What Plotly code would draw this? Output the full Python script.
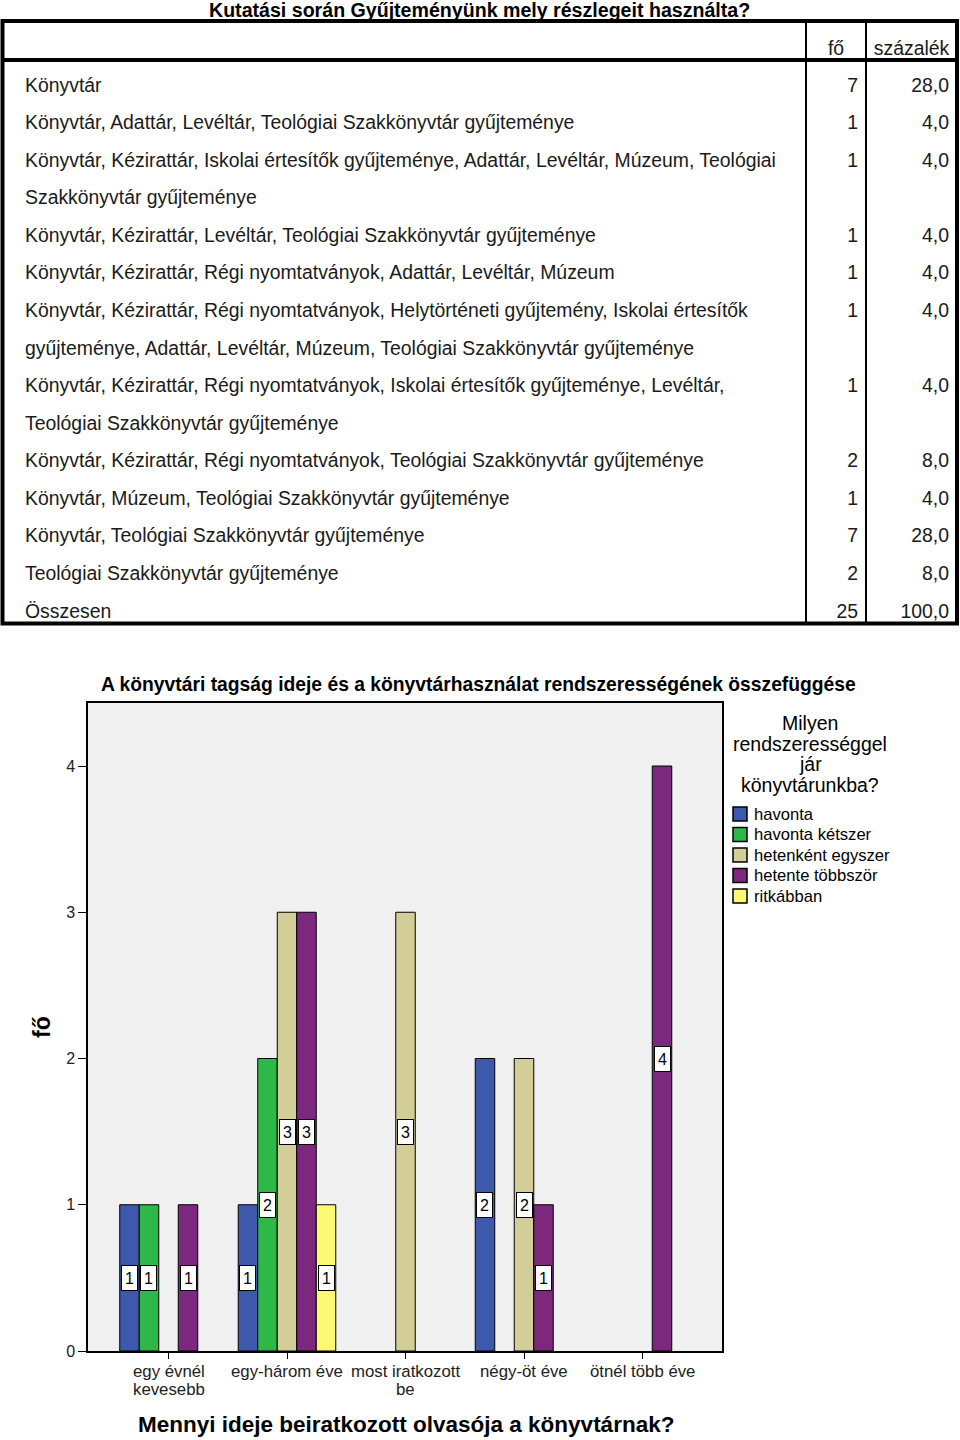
import plotly.graph_objects as go

# ---------------- DATA ----------------
table_title = "Kutatási során Gyűjteményünk mely részlegeit használta?"
table_header = ["", "fő", "százalék"]
table_labels = [
    "Könyvtár",
    "Könyvtár, Adattár, Levéltár, Teológiai Szakkönyvtár gyűjteménye",
    "Könyvtár, Kézirattár, Iskolai értesítők gyűjteménye, Adattár, Levéltár, Múzeum, Teológiai<br>Szakkönyvtár gyűjteménye",
    "Könyvtár, Kézirattár, Levéltár, Teológiai Szakkönyvtár gyűjteménye",
    "Könyvtár, Kézirattár, Régi nyomtatványok, Adattár, Levéltár, Múzeum",
    "Könyvtár, Kézirattár, Régi nyomtatványok, Helytörténeti gyűjtemény, Iskolai értesítők<br>gyűjteménye, Adattár, Levéltár, Múzeum, Teológiai Szakkönyvtár gyűjteménye",
    "Könyvtár, Kézirattár, Régi nyomtatványok, Iskolai értesítők gyűjteménye, Levéltár,<br>Teológiai Szakkönyvtár gyűjteménye",
    "Könyvtár, Kézirattár, Régi nyomtatványok, Teológiai Szakkönyvtár gyűjteménye",
    "Könyvtár, Múzeum, Teológiai Szakkönyvtár gyűjteménye",
    "Könyvtár, Teológiai Szakkönyvtár gyűjteménye",
    "Teológiai Szakkönyvtár gyűjteménye",
    "Összesen",
]
table_counts = [7, 1, 1, 1, 1, 1, 1, 2, 1, 7, 2, 25]
table_percents = ["28,0", "4,0", "4,0", "4,0", "4,0", "4,0", "4,0", "8,0", "4,0", "28,0", "8,0", "100,0"]

chart_title = "A könyvtári tagság ideje és a könyvtárhasználat rendszerességének összefüggése"
x_title = "Mennyi ideje beiratkozott olvasója a könyvtárnak?"
y_title = "fő"
legend_title = "Milyen<br>rendszerességgel<br>jár<br>könyvtárunkba?"
categories = ["egy évnél<br>kevesebb", "egy-három éve", "most iratkozott<br>be", "négy-öt éve", "ötnél több éve"]
series_names = ["havonta", "havonta kétszer", "hetenként egyszer", "hetente többször", "ritkábban"]
series_values = {
    "havonta":           [1, 1, None, 2, None],
    "havonta kétszer":   [1, 2, None, None, None],
    "hetenként egyszer": [None, 3, 3, 2, None],
    "hetente többször":  [1, 3, None, 1, 4],
    "ritkábban":         [None, 1, None, None, None],
}
series_colors = ["#3E58AC", "#2EB848", "#D3CE97", "#7C287D", "#FBF873"]
y_ticks = [0, 1, 2, 3, 4]

# ---------------- LAYOUT CONSTANTS ----------------
W, H = 960, 1440
FONT = "Liberation Sans, Arial, sans-serif"

def px(x):
    return x / W

def py(y):
    return 1 - y / H

fig = go.Figure()

# ---------------- TABLE ----------------
tab_left, tab_right = 2.5, 957
col_div1, col_div2 = 806, 866
tab_top, tab_head_bottom, tab_bottom = 21, 60, 623.5
text_left = 17
row_h = 37.57
head_top, head_h = 32, 37

disp_labels, disp_counts, disp_pcts = [], [], []
for lab, c, p in zip(table_labels, table_counts, table_percents):
    parts = lab.split("<br>")
    disp_labels += parts
    disp_counts += [c] + [""] * (len(parts) - 1)
    disp_pcts += [p] + [""] * (len(parts) - 1)

tab_content_bottom = head_top + head_h + row_h * len(disp_labels) + 12
fig.add_trace(go.Table(
    domain=dict(x=[px(text_left), px(tab_right)], y=[py(tab_content_bottom), py(head_top)]),
    columnwidth=[col_div1 - text_left, col_div2 - col_div1, tab_right - col_div2],
    header=dict(
        values=table_header,
        align=["left", "center", "center"],
        font=dict(family=FONT, size=19.4, color="#1a1a1a"),
        fill_color="rgba(0,0,0,0)",
        line=dict(width=0, color="rgba(0,0,0,0)"),
        height=head_h,
    ),
    cells=dict(
        values=[disp_labels, disp_counts, disp_pcts],
        align=["left", "right", "right"],
        font=dict(family=FONT, size=19.4, color="#1a1a1a"),
        fill_color="rgba(0,0,0,0)",
        line=dict(width=0, color="rgba(0,0,0,0)"),
        height=row_h,
    ),
))

shapes = []
shapes.append(dict(type="rect", xref="paper", yref="paper",
                   x0=px(tab_left), x1=px(tab_right), y0=py(tab_bottom), y1=py(tab_top),
                   line=dict(color="black", width=4)))
shapes.append(dict(type="line", xref="paper", yref="paper",
                   x0=px(tab_left), x1=px(tab_right), y0=py(tab_head_bottom), y1=py(tab_head_bottom),
                   line=dict(color="black", width=4)))
for xd in (col_div1, col_div2):
    shapes.append(dict(type="line", xref="paper", yref="paper",
                       x0=px(xd), x1=px(xd), y0=py(tab_bottom), y1=py(tab_top),
                       line=dict(color="black", width=2)))

# ---------------- BAR CHART ----------------
plot_l, plot_r, plot_t, plot_b = 88, 722, 703, 1351
unit_px = 146.25
cat_px = 118.5
first_cat_px = 168.5
group_frac = 0.823
slot = group_frac / len(series_names)
n_cat = len(categories)

annotations = []
for k, name in enumerate(series_names):
    vals = series_values[name]
    xs = [i + (k - (len(series_names) - 1) / 2) * slot for i in range(n_cat)]
    fig.add_trace(go.Bar(
        x=xs, y=vals, name=name, width=slot, showlegend=False,
        marker=dict(color=series_colors[k], line=dict(color="black", width=1)),
        xaxis="x", yaxis="y", hoverinfo="skip",
    ))
    for xv, v in zip(xs, vals):
        if v:
            annotations.append(dict(
                x=xv, y=v / 2, xref="x", yref="y", text=str(v), showarrow=False,
                font=dict(family=FONT, size=16, color="black"),
                bgcolor="white", bordercolor="black", borderwidth=1, borderpad=2,
                width=11, height=20,
            ))

# category labels (tight line spacing as in the reference)
tick_y0, tick_dy = 1371, 18
for i, cat in enumerate(categories):
    for j, line in enumerate(cat.split("<br>")):
        annotations.append(dict(text=line, x=i, y=py(tick_y0 + j * tick_dy), xref="x", yref="paper",
                                showarrow=False, xanchor="center", yanchor="middle",
                                font=dict(family=FONT, size=16.8, color="#222")))

# legend (drawn manually to match the compact spacing)
leg_cx, leg_title_y0, leg_title_dy = 810, 723, 20.5
for j, line in enumerate(legend_title.split("<br>")):
    annotations.append(dict(text=line, x=px(leg_cx), y=py(leg_title_y0 + j * leg_title_dy),
                            xref="paper", yref="paper", showarrow=False, xanchor="center", yanchor="middle",
                            font=dict(family=FONT, size=19.5, color="black")))
sw_x0, sw_size, leg_item_y0, leg_item_dy, leg_text_x = 733, 14, 814, 20.5, 752
for k, name in enumerate(series_names):
    yc = leg_item_y0 + k * leg_item_dy
    shapes.append(dict(type="rect", xref="paper", yref="paper",
                       x0=px(sw_x0), x1=px(sw_x0 + sw_size),
                       y0=py(yc + sw_size / 2), y1=py(yc - sw_size / 2),
                       fillcolor=series_colors[k], line=dict(color="black", width=1.5)))
    annotations.append(dict(text=name, x=px(leg_text_x), y=py(yc), xref="paper", yref="paper",
                            showarrow=False, xanchor="left", yanchor="middle",
                            font=dict(family=FONT, size=16.6, color="black")))

annotations += [
    dict(text="<b>" + table_title + "</b>", x=px(479), y=py(10), xref="paper", yref="paper",
         showarrow=False, font=dict(family=FONT, size=19.6, color="black"), xanchor="center", yanchor="middle"),
    dict(text="<b>" + chart_title + "</b>", x=px(478), y=py(684), xref="paper", yref="paper",
         showarrow=False, font=dict(family=FONT, size=19.3, color="black"), xanchor="center", yanchor="middle"),
    dict(text="<b>" + x_title + "</b>", x=px(406), y=py(1424), xref="paper", yref="paper",
         showarrow=False, font=dict(family=FONT, size=22.5, color="black"), xanchor="center", yanchor="middle"),
    dict(text="<b>" + y_title + "</b>", x=px(42), y=py(1027), xref="paper", yref="paper", textangle=-90,
         showarrow=False, font=dict(family=FONT, size=23, color="black"), xanchor="center", yanchor="middle"),
]

fig.update_layout(
    width=W, height=H,
    margin=dict(l=0, r=0, t=0, b=0, pad=0, autoexpand=False),
    paper_bgcolor="white",
    plot_bgcolor="#F0F0F0",
    barmode="overlay",
    showlegend=False,
    xaxis=dict(
        domain=[px(plot_l), px(plot_r)], anchor="y", automargin=False,
        range=[(plot_l - first_cat_px) / cat_px, (plot_r - first_cat_px) / cat_px],
        tickvals=list(range(n_cat)), showticklabels=False,
        ticks="outside", ticklen=6, tickcolor="black",
        showline=True, linecolor="black", linewidth=1.5, mirror=True,
        showgrid=False, zeroline=False,
    ),
    yaxis=dict(
        domain=[py(plot_b), py(plot_t)], anchor="x", automargin=False,
        range=[0, (plot_b - plot_t) / unit_px],
        tickvals=y_ticks,
        ticks="outside", ticklen=8, tickcolor="black",
        showline=True, linecolor="black", linewidth=1.5, mirror=True,
        showgrid=False, zeroline=False,
        tickfont=dict(family=FONT, size=16, color="#222"),
    ),
    shapes=shapes,
    annotations=annotations,
)

fig.write_html(
    "out.html",
    config={"displayModeBar": False},
    post_script=("document.documentElement.style.margin='0px';"
                 "document.body.style.margin='0px';"
                 "document.documentElement.style.overflow='hidden';"
                 "document.body.style.overflow='hidden';"),
)
